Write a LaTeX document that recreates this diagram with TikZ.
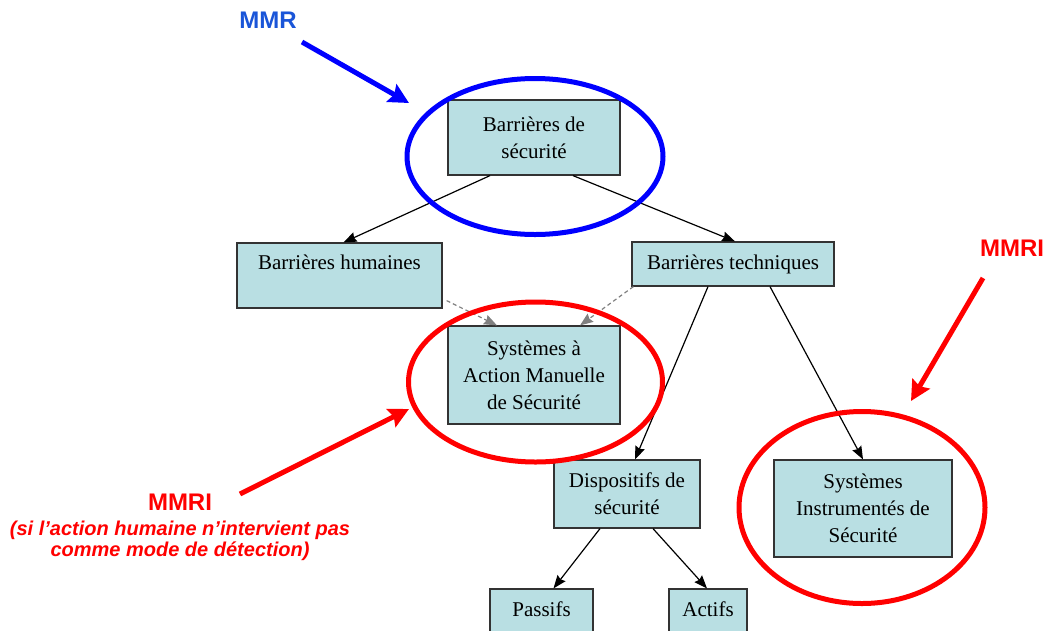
\documentclass[tikz,border=0pt]{standalone}
\usepackage{fontspec}
\setmainfont{Liberation Serif}
\newfontfamily\arialfont{Liberation Sans}
\usetikzlibrary{arrows.meta}
\definecolor{boxfill}{HTML}{B9DFE3}
\definecolor{boxline}{HTML}{333333}
\definecolor{mmrblue}{HTML}{1A55D8}
\definecolor{pureblue}{HTML}{0000FF}
\definecolor{purered}{HTML}{FF0000}
\tikzset{
  box/.style={draw=boxline, line width=1.2pt, fill=boxfill, inner sep=0pt, align=center,
    font=\fontsize{21}{27}\selectfont},
  link/.style={draw=black, line width=1.2pt, -{Stealth[length=13pt,width=10pt,inset=1.5pt]}},
  dlink/.style={draw=gray, line width=1.2pt, dash pattern=on 4pt off 3pt, -{Stealth[length=13pt,width=10pt,inset=1.5pt]}},
  bigarrow/.style={line width=5pt, -{Stealth[length=20pt,width=20pt,inset=3pt]}},
  ring/.style={line width=5pt},
  mlabel/.style={font=\arialfont\bfseries\fontsize{24}{28}\selectfont, inner sep=0pt},
}
\begin{document}
\begin{tikzpicture}[x=1pt,y=-1pt]
\useasboundingbox (0,0) rectangle (1047,630);
% boxes
\node[box, minimum width=172, minimum height=75] (bs) at (534,137.5) {Barrières de\\sécurité};
\node[box, minimum width=205, minimum height=65] (bh) at (339.5,275.5) {Barrières humaines\\~};
\node[box, minimum width=202, minimum height=44] (bt) at (733,264) {Barrières techniques};
\node[box, minimum width=172, minimum height=98] (sam) at (534,375) {Systèmes à\\Action Manuelle\\de Sécurité};
\node[box, minimum width=146, minimum height=68] (ds) at (627,494) {Dispositifs de\\sécurité};
\node[box, minimum width=178, minimum height=97] (sis) at (863,508.5) {Systèmes\\Instrumentés de\\Sécurité};
\node[box, minimum width=103, minimum height=60] (pa) at (541.5,619) {};
\node[box, minimum width=78, minimum height=60] (ac) at (708,619) {};
\node[font=\fontsize{21}{27}\selectfont, inner sep=0pt] (pat) at (541.5,609) {Passifs};
\node[font=\fontsize{21}{27}\selectfont, inner sep=0pt] (act) at (708,609) {Actifs};
% connectors
\draw[link] ([xshift=-44pt]bs.south) -- ([xshift=4pt]bh.north);
\draw[link] ([xshift=39pt]bs.south) -- ([xshift=2pt]bt.north);
\draw[dlink] ([xshift=4pt,yshift=8pt]bh.south east) -- ([xshift=-37pt]sam.north);
\draw[dlink] ([xshift=2pt]bt.south west) -- ([xshift=46pt]sam.north);
\draw[link] ([xshift=-25pt]bt.south) -- ([xshift=8pt]ds.north);
\draw[link] ([xshift=37pt]bt.south) -- (sis.north);
\draw[link] ([xshift=-27pt]ds.south) -- ([xshift=12pt]pa.north);
\draw[link] ([xshift=26pt]ds.south) -- ([xshift=-1pt]ac.north);
% ellipses
\draw[ring, draw=pureblue] (535,156.5) ellipse [x radius=128, y radius=78];
\draw[ring, draw=purered] (535.5,382) ellipse [x radius=127, y radius=80];
\draw[ring, draw=purered] (862,507.5) ellipse [x radius=123, y radius=96];
% labels
\node[mlabel, text=mmrblue] (mmr) at (268,20) {MMR};
\node[mlabel, text=purered] (mmri1) at (1012,248) {MMRI};
\node[mlabel, text=purered] (mmri2) at (180,502) {MMRI};
\node[font=\arialfont\bfseries\itshape\fontsize{20}{21}\selectfont, text=purered, align=center, inner sep=0pt] (note) at (180,541) {(si l’action humaine n’intervient pas\\comme mode de détection)};
% big arrows
\coordinate (b0) at (302,42);
\coordinate (b1) at (409,103);
\draw[bigarrow, draw=pureblue, fill=pureblue] (b0) -- (b1);
\coordinate (r0) at (983,278);
\coordinate (r1) at (911,401);
\draw[bigarrow, draw=purered, fill=purered] (r0) -- (r1);
\coordinate (l0) at (240,494);
\coordinate (l1) at (409,409);
\draw[bigarrow, draw=purered, fill=purered] (l0) -- (l1);
\end{tikzpicture}
\end{document}
